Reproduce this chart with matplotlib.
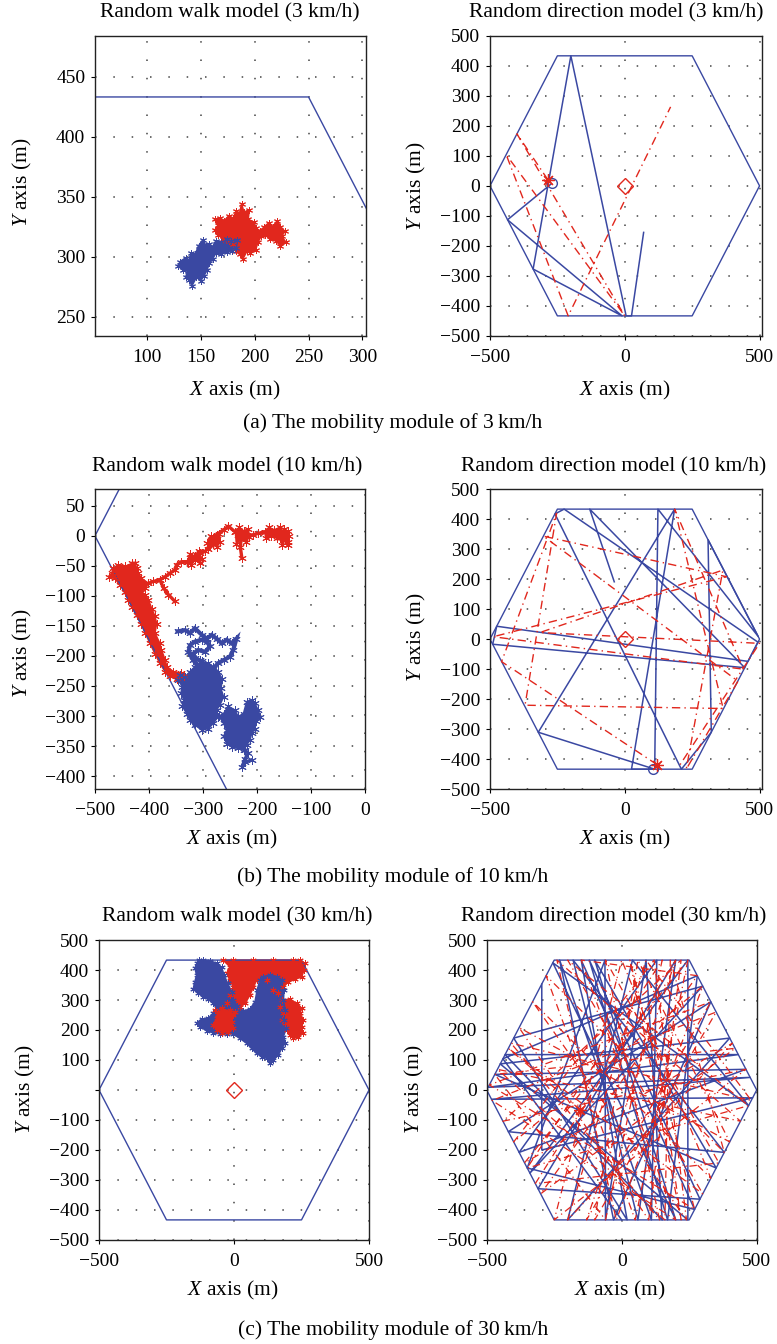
import matplotlib
matplotlib.use('Agg')
import matplotlib.pyplot as plt
from matplotlib.ticker import FixedLocator, FixedFormatter

plt.rcParams['font.family'] = ['Liberation Serif', 'DejaVu Serif']
plt.rcParams['mathtext.fontset'] = 'custom'
plt.rcParams['mathtext.it'] = 'Liberation Serif:italic'
plt.rcParams['mathtext.rm'] = 'Liberation Serif'

BLUE = '#3a48a2'
RED = '#e1271d'

# ---------------- data ----------------
HEX_X = [-500, -250, 250, 500, 250, -250, -500]
HEX_Y = [0, 433, 433, 0, -433, -433, 0]

# (a) random walk 3 km/h: outlines of the dense walk traces
RW3_RED_X = [188, 190, 195, 194, 199, 201, 205, 209, 213, 217, 221, 224, 228, 225, 229, 224, 220, 214, 210, 206,
             203, 201, 196, 193, 189, 186, 183, 180, 176, 171, 166, 163, 166, 163, 168, 172, 176, 180, 183, 186]
RW3_RED_Y = [344, 337, 339, 331, 329, 324, 321, 325, 328, 325, 330, 325, 321, 317, 312, 309, 313, 315, 318, 317,
             312, 306, 303, 305, 298, 302, 305, 311, 313, 315, 318, 322, 326, 331, 332, 330, 334, 332, 338, 336]
RW3_BLUE_X = [131, 136, 139, 141, 145, 148, 152, 155, 158, 161, 164, 169, 174, 178, 184, 183, 179, 174, 169, 164,
              161, 158, 156, 153, 150, 146, 142, 139, 136, 138, 134, 129]
RW3_BLUE_Y = [296, 299, 297, 303, 302, 309, 314, 309, 311, 308, 313, 312, 315, 313, 314, 307, 305, 304, 302, 303,
              298, 295, 289, 284, 280, 283, 276, 281, 283, 288, 289, 292]

# (a) random direction 3 km/h
RD3_BLUE_X = [-275, -435, -10, -340, -200, 5, 25, 70]
RD3_BLUE_Y = [5, -113, -433, -277, 433, -433, -433, -155]
RD3_RED_X = [-285, -400, 0, -440, -210, 170]
RD3_RED_Y = [20, 173, -433, 104, -433, 263]
RD3_START_BLUE = (-270, 8)
RD3_START_RED = (-285, 20)

# (b) random walk 10 km/h
RW10_RED_BLOB_X = [-466, -457, -444, -432, -426, -423, -420, -414, -401, -407, -414, -407, -401, -395, -389, -386,
                   -389, -380, -377, -370, -367, -355, -340, -336, -349, -361, -370, -380, -389, -398, -407, -414,
                   -423, -432, -438, -444, -454, -463, -475, -469]
RW10_RED_BLOB_Y = [-54, -48, -51, -46, -45, -54, -62, -71, -79, -87, -93, -98, -107, -121, -134, -146,
                   -162, -179, -190, -207, -218, -226, -229, -234, -239, -234, -226, -212, -196, -179, -162, -146,
                   -132, -118, -107, -93, -82, -71, -68, -62]
RW10_RED_TRAIL_X = [-401, -392, -380, -370, -361, -352, -349, -340, -327, -315, -306, -296, -287, -281, -275, -262,
                    -253, -241, -235, -228, -219, -207, -198, -185, -173, -160, -148, -143]
RW10_RED_TRAIL_Y = [-79, -76, -73, -68, -62, -57, -48, -43, -43, -34, -29, -26, -15, -4, 2, 10,
                    16, 7, 2, 4, -1, 2, 4, 7, 7, 4, 2, -15]
RW10_RED_BRANCH1_X = [-380, -373, -364, -352]
RW10_RED_BRANCH1_Y = [-73, -87, -98, -109]
RW10_RED_BRANCH2_X = [-228, -231, -228]
RW10_RED_BRANCH2_Y = [4, -18, -37]
RW10_RED_CLUMP_X = [[-330, -324, -316, -308, -302, -306, -314, -322],
                    [-292, -286, -279, -271, -268, -274, -282, -290],
                    [-240, -233, -225, -216, -214, -221, -231, -238],
                    [-186, -178, -168, -158, -156, -163, -174, -183],
                    [-156, -150, -143, -140, -142, -148, -153, -158]]
RW10_RED_CLUMP_Y = [[-44, -30, -35, -26, -38, -46, -40, -48],
                    [-12, 0, -6, 3, -10, -18, -14, -22],
                    [6, 14, 8, 12, -2, -10, -6, -14],
                    [6, 14, 10, 14, 2, -4, 0, -4],
                    [4, 12, 8, 0, -10, -6, -16, -4]]
RW10_BLUE_NET_X = [-347, -333, -324, -315, -302, -293, -284, -275, -265, -256, -247, -238, -244, -250, -262, -272,
                   -281, -290, -296, -306, -315, -318, -309, -296, -287, -293, -302, -315, -324, -327, -318, -309]
RW10_BLUE_NET_Y = [-159, -157, -162, -154, -165, -171, -165, -171, -179, -173, -179, -171, -190, -201, -207, -212,
                   -221, -226, -218, -207, -204, -196, -190, -193, -184, -176, -173, -176, -182, -193, -207, -218]
RW10_BLUE_MAIN_X = [-302, -290, -281, -272, -264, -267, -262, -269, -275, -272, -281, -290, -302, -315, -324, -330,
                    -338, -335, -341, -338, -346, -343, -333, -324, -315]
RW10_BLUE_MAIN_Y = [-209, -212, -218, -226, -239, -254, -268, -282, -290, -301, -312, -321, -323, -315, -307, -296,
                    -284, -273, -262, -251, -240, -232, -235, -226, -218]
RW10_BLUE_LOW_X = [-262, -253, -241, -235, -225, -219, -210, -204, -198, -194, -201, -204, -210, -213, -219, -225,
                   -235, -247, -256, -262, -256, -262, -270]
RW10_BLUE_LOW_Y = [-296, -284, -290, -301, -296, -276, -273, -279, -290, -301, -309, -321, -329, -340, -348, -357,
                   -354, -351, -346, -334, -323, -312, -300]
RW10_BLUE_TAIL_X = [-222, -216, -222, -228, -222, -210]
RW10_BLUE_TAIL_Y = [-357, -362, -371, -385, -377, -373]

# (b) random direction 10 km/h
RD10_BLUE_X = [-39, -130, 445, -490, -475, 457, 494, -225, -259, 210, 321, 309, 495, 123, 111, -321, 185, 25, 105]
RD10_BLUE_Y = [191, 433, -95, -17, 43, -74, -10, 433, 417, -433, -310, 331, 9, 433, -433, -310, 433, -433, -433]
RD10_RED_X = [120, -457, -253, -370, 365, 185, 440, -488, 377, -302, 420, 228, 364, -315, 500, 200]
RD10_RED_Y = [-418, -75, 419, -220, -231, 433, -100, 8, 208, 343, -140, -433, 230, 22, -14, -425]
RD10_START_BLUE = (105, -431)
RD10_START_RED = (120, -418)

# (c) random walk 30 km/h
RW30_RED_A_X = [-40, -3, 72, 146, 220, 244, 263, 259, 251, 226, 201, 183, 164, 146, 121, 109, 84, 72, 59, 41,
                22, 4, -15, -27, -15, -2, -15, -27, -15]
RW30_RED_A_Y = [433, 433, 433, 433, 433, 433, 422, 400, 378, 369, 361, 344, 322, 333, 367, 378, 367, 344, 317, 289,
                278, 261, 267, 289, 317, 344, 367, 389, 411]
RW30_RED_B_X = [177, 207, 232, 251, 244, 257, 251, 254, 238, 220, 207, 195, 189, 177, 183, 170]
RW30_RED_B_Y = [300, 302, 289, 272, 256, 233, 211, 189, 178, 172, 183, 200, 222, 233, 256, 278]
RW30_RED_C_X = [-70, -46, -15, -3, -9, -3, -21, -46, -64, -77, -64]
RW30_RED_C_Y = [267, 272, 261, 250, 228, 206, 194, 191, 200, 217, 239]
RW30_BLUE_X = [-128, -114, -89, -64, -46, -37, -24, -9, -3, 12, 35, 59, 78, 86, 96, 109, 133, 158, 177, 185,
               183, 189, 185, 193, 183, 189, 177, 164, 146, 133, 121, 103, 84, 65, 47, 22, -3, -27, -52, -77,
               -101, -126, -138, -120, -95, -77, -64, -77, -95, -114, -132, -151, -145, -138, -145, -136]
RW30_BLUE_Y = [433, 433, 431, 422, 409, 383, 356, 328, 300, 280, 264, 269, 294, 333, 367, 378, 383, 378, 367, 333,
               300, 267, 233, 206, 178, 156, 139, 117, 100, 91, 106, 111, 122, 139, 156, 172, 187, 187, 187, 191,
               198, 211, 224, 236, 239, 256, 272, 289, 302, 311, 322, 336, 361, 383, 406, 424]

# (c) random direction 30 km/h
RD30_BLUE_X = [-296, -296, 485, -482, 476, -495, 432, -432, 150, 90, -60, -62, -350, 270, -150, 20, -400, 300,
               -340, 245, 245, -450, 400, -200, 40, 470, -255, 200, -100, 350, -470, 460, -380, 130, 110, -230,
               -30, 330, -420, 380, -180, 60, 200, -310, 290, -120, 170, 280, -440, 0]
RD30_BLUE_Y = [353, -200, -26, -31, 42, 9, 118, 118, -433, 433, -433, 433, -260, -398, 433, -433, 173, 346,
               -277, 433, -433, 87, 173, -433, 433, -52, 424, -433, 433, -260, 52, 69, -208, 433, -433, 433,
               -433, 294, -139, -208, 433, -433, 433, -329, -364, 433, -433, 381, 104, -433]
RD30_RED_X = [-154, -420, 300, -200, 470, -350, 150, -60, -470, 420, -300, 280, -150, 200, -480, 350, -100, 60,
              400, -380, 100, 220, -440, 460, -250, 0, 330, -330, 240, 120, -400, 300, -20, -240, 440, -460,
              160, 180, 380, -280, 50, 245, -360, 410, -200, 90, 480, -410, 140, -60, 360, -320, 200, -130,
              330, -490, 270, 30, 220, 120]
RD30_RED_Y = [-66, 139, -346, 433, -52, -260, 433, -433, 52, 139, -346, 381, 433, -433, -35, 260, -433, 433,
              -173, 208, -433, 433, -104, 69, -433, 433, -294, 294, -433, 433, -173, 346, -433, 433, -104, 69,
              -433, 433, -208, 381, -433, 433, -243, 156, -433, 433, -35, 156, -433, 433, -243, -312, 433, -433,
              294, 17, -398, 433, -433, 200]
RD30_START_RED = (-154, -66)

# ---------------- figure ----------------
W, H = 777, 1344
fig = plt.figure(figsize=(W / 100, H / 100), dpi=100)


def ax_at(l, t, r, b):
    return fig.add_axes([l / W, 1 - b / H, (r - l) / W, (b - t) / H])


def style(ax, xlim, ylim, xt, yt, ylabels=None):
    ax.set_xlim(*xlim)
    ax.set_ylim(*ylim)
    ax.xaxis.set_major_locator(FixedLocator(xt))
    ax.yaxis.set_major_locator(FixedLocator(yt))
    if ylabels is not None:
        ax.yaxis.set_major_formatter(FixedFormatter(ylabels))
    ax.grid(True, linestyle=(0, (1, 11)), color='#444444', linewidth=1.1)
    ax.set_axisbelow(True)
    ax.tick_params(direction='out', length=3, width=0.8, labelsize=14, color='black')
    ax.tick_params(axis='x', pad=6)
    ax.tick_params(axis='y', pad=4)
    for s in ax.spines.values():
        s.set_linewidth(1.0)
        s.set_color('#222222')


def hexagon(ax):
    ax.plot(HEX_X, HEX_Y, color=BLUE, lw=1.0)


def blob(ax, xs, ys, c, ms=6):
    ax.fill(xs, ys, color=c, lw=1.2, ec=c, joinstyle='miter')
    # spiky texture of the dense walk around its outline
    ax.plot(xs, ys, ls='none', marker=(6, 2, 0), ms=ms, mec=c, mew=0.7)


def trail(ax, xs, ys, c, lw=2.4, ms=6):
    ax.plot(xs, ys, color=c, lw=lw, solid_joinstyle='miter')
    ax.plot(xs, ys, ls='none', marker=(6, 2, 0), ms=ms, mec=c, mew=0.7)


def txt(x, y, s, size):
    fig.text(x / W, 1 - y / H, s, ha='center', va='center', fontsize=size)


def ylab(x, y, s, size):
    fig.text(x / W, 1 - y / H, s, ha='center', va='center', fontsize=size, rotation=90)


TS = 15.5
LS = 15.5

# (a) left
ax = ax_at(95, 35.7, 365.7, 336)
hexagon(ax)
blob(ax, RW3_RED_X, RW3_RED_Y, RED, ms=5)
blob(ax, RW3_BLUE_X, RW3_BLUE_Y, BLUE, ms=5)
style(ax, (52, 303), (234, 484), [100, 150, 200, 250, 300], [250, 300, 350, 400, 450])

# (a) right
ax = ax_at(490, 35.7, 761.7, 336)
hexagon(ax)
ax.plot(RD3_BLUE_X, RD3_BLUE_Y, color=BLUE, lw=1.1)
ax.plot(RD3_RED_X, RD3_RED_Y, color=RED, lw=1.0, linestyle=(0, (6, 3, 1, 3)))
ax.plot(*RD3_START_BLUE, marker='o', ms=7, mfc='none', mec=BLUE, mew=1.0)
ax.plot(*RD3_START_RED, marker=(8, 2, 0), ms=9, mec=RED, mew=0.9)
ax.plot(0, 0, marker='D', ms=8, mfc='none', mec=RED, mew=1.0)
style(ax, (-500, 508), (-500, 500), [-500, 0, 500], list(range(-500, 501, 100)))

# (b) left
ax = ax_at(95, 489, 365, 789.3)
hexagon(ax)
blob(ax, RW10_RED_BLOB_X, RW10_RED_BLOB_Y, RED)
trail(ax, RW10_RED_TRAIL_X, RW10_RED_TRAIL_Y, RED)
trail(ax, RW10_RED_BRANCH1_X, RW10_RED_BRANCH1_Y, RED)
trail(ax, RW10_RED_BRANCH2_X, RW10_RED_BRANCH2_Y, RED)
for cx, cy in zip(RW10_RED_CLUMP_X, RW10_RED_CLUMP_Y):
    blob(ax, cx, cy, RED)
trail(ax, RW10_BLUE_NET_X, RW10_BLUE_NET_Y, BLUE, lw=3.0)
blob(ax, RW10_BLUE_MAIN_X, RW10_BLUE_MAIN_Y, BLUE)
blob(ax, RW10_BLUE_LOW_X, RW10_BLUE_LOW_Y, BLUE)
trail(ax, RW10_BLUE_TAIL_X, RW10_BLUE_TAIL_Y, BLUE)
style(ax, (-500, 0), (-422, 78), list(range(-500, 1, 100)), list(range(-400, 51, 50)))

# (b) right
ax = ax_at(490, 489, 761.7, 789.3)
hexagon(ax)
ax.plot(RD10_BLUE_X, RD10_BLUE_Y, color=BLUE, lw=1.1)
ax.plot(RD10_RED_X, RD10_RED_Y, color=RED, lw=1.0, linestyle=(0, (6, 3, 1, 3)))
ax.plot(*RD10_START_BLUE, marker='o', ms=7, mfc='none', mec=BLUE, mew=1.0)
ax.plot(*RD10_START_RED, marker=(8, 2, 0), ms=9, mec=RED, mew=0.9)
ax.plot(0, 0, marker='D', ms=8, mfc='none', mec=RED, mew=1.0)
style(ax, (-500, 508), (-500, 500), [-500, 0, 500], list(range(-500, 501, 100)))

# (c) left
ax = ax_at(99, 940, 369, 1240)
hexagon(ax)
blob(ax, RW30_RED_A_X, RW30_RED_A_Y, RED, ms=4.5)
blob(ax, RW30_RED_B_X, RW30_RED_B_Y, RED, ms=4.5)
blob(ax, RW30_BLUE_X, RW30_BLUE_Y, BLUE, ms=4.5)
blob(ax, RW30_RED_C_X, RW30_RED_C_Y, RED, ms=4.5)
ax.plot(0, 0, marker='D', ms=8, mfc='none', mec=RED, mew=1.0)
yt = list(range(-500, 501, 100))
style(ax, (-500, 500), (-500, 500), [-500, 0, 500], yt,
      ylabels=['\u2212%d' % -v if v < 0 else ('' if v == 0 else str(v)) for v in yt])

# (c) right
ax = ax_at(486.7, 940, 756.7, 1240)
hexagon(ax)
ax.plot(RD30_BLUE_X, RD30_BLUE_Y, color=BLUE, lw=1.1)
ax.plot(RD30_RED_X, RD30_RED_Y, color=RED, lw=0.9, linestyle=(0, (6, 3, 1, 3)))
ax.plot(*RD30_START_RED, marker=(8, 2, 0), ms=9, mec=RED, mew=0.9)
style(ax, (-500, 500), (-500, 500), [-500, 0, 500], list(range(-500, 501, 100)))

# titles / labels / captions
txt(230, 13, 'Random walk model (3 km/h)', TS)
txt(616, 13, 'Random direction model (3 km/h)', TS)
txt(227, 467, 'Random walk model (10 km/h)', TS)
txt(614, 467, 'Random direction model (10 km/h)', TS)
txt(237, 917, 'Random walk model (30 km/h)', TS)
txt(614, 917, 'Random direction model (30 km/h)', TS)

for (x, y) in [(235, 390), (625, 390), (232, 839), (625, 839), (233, 1290), (620, 1290)]:
    txt(x, y, '$X$ axis (m)', LS)
for (x, y) in [(22, 182), (416, 186), (22, 653), (416, 637), (25, 1089), (414, 1089)]:
    ylab(x, y, '$Y$ axis (m)', LS)

txt(393, 423, '(a) The mobility module of 3\u2009km/h', 15.5)
txt(393, 877, '(b) The mobility module of 10\u2009km/h', 15.5)
txt(393, 1330, '(c) The mobility module of 30\u2009km/h', 15.5)

fig.savefig('out.png', dpi=100)
